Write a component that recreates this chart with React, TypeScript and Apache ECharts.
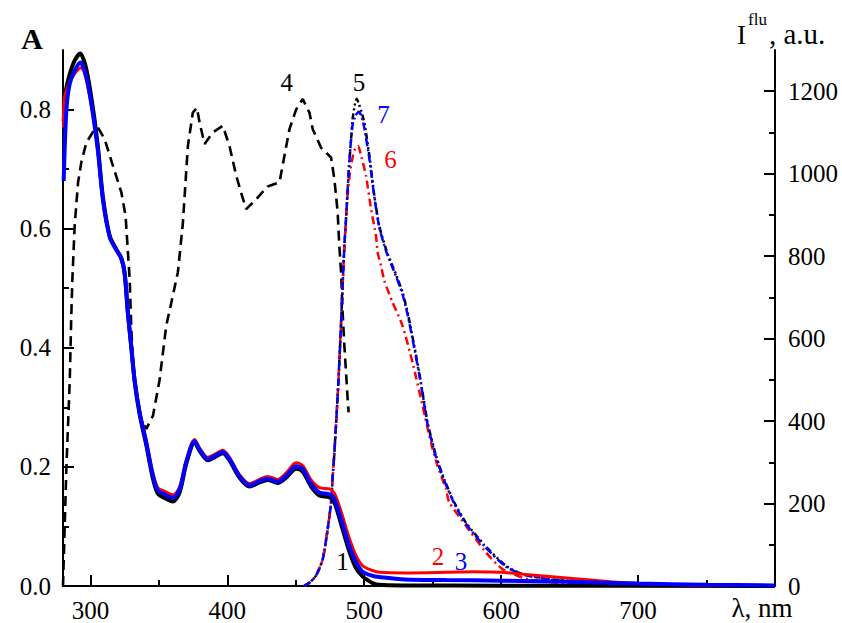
import React, { useEffect, useRef } from "react";
import * as echarts from "echarts";

// Absorbance spectra (left axis, A)
const abs1: number[][] = [[280.5,0.78],[282,0.83],[285,0.86],[288.5,0.882],[292.5,0.894],[297,0.868],[302,0.8],[305.5,0.737],[309.2,0.652],[314.1,0.588],[319,0.565],[322.6,0.55],[325,0.525],[327.4,0.458],[329.9,0.4],[332.3,0.344],[336,0.288],[340.8,0.237],[345.7,0.18],[349.3,0.155],[354.2,0.148],[360.2,0.142],[365.1,0.157],[370,0.205],[376.1,0.241],[379.7,0.227],[385.8,0.211],[390.7,0.216],[396.7,0.223],[401.6,0.211],[408.9,0.182],[416.2,0.167],[423.5,0.174],[429.5,0.178],[436.8,0.173],[443,0.182],[450.3,0.197],[455.1,0.192],[461.2,0.167],[467.3,0.152],[474.6,0.149],[478.2,0.14],[483.1,0.104],[489.1,0.058],[494,0.03],[498.8,0.016],[503,0.009],[506.1,0.005],[511,0.002],[530,0.001],[600,0.0005],[800,0]];
const abs2: number[][] = [[280.3,0.77],[281,0.82],[283,0.835],[286,0.852],[289,0.862],[293,0.87],[297,0.85],[302,0.789],[305.5,0.729],[309.2,0.647],[314.1,0.587],[319,0.566],[322.6,0.552],[325,0.528],[327.4,0.461],[329.9,0.404],[332.3,0.348],[336,0.293],[340.8,0.244],[345.7,0.189],[349.3,0.165],[354.2,0.159],[360.2,0.153],[365.1,0.166],[370,0.211],[376.1,0.246],[379.7,0.232],[385.8,0.216],[390.7,0.221],[396.7,0.228],[401.6,0.216],[408.9,0.187],[416.2,0.172],[423.5,0.179],[429.5,0.184],[436.8,0.179],[443,0.19],[450.3,0.207],[455.1,0.202],[461.2,0.178],[467.3,0.165],[474.6,0.163],[478.2,0.156],[483.1,0.125],[489.1,0.08],[494,0.051],[498.8,0.034],[506.1,0.026],[511,0.023],[530,0.022],[560,0.023],[580,0.024],[600,0.023],[620,0.019],[650,0.013],[680,0.007],[700,0.004],[750,0.001],[800,0.001]];
const abs3: number[][] = [[280.5,0.68],[282.5,0.8],[284.9,0.843],[288.5,0.865],[292.7,0.879],[297.1,0.854],[301.9,0.792],[305.5,0.731],[309.2,0.648],[314.1,0.586],[319,0.564],[322.6,0.55],[325,0.526],[327.4,0.459],[329.9,0.402],[332.3,0.346],[336,0.291],[340.8,0.241],[345.7,0.185],[349.3,0.16],[354.2,0.154],[360.2,0.148],[365.1,0.162],[370,0.208],[376.1,0.243],[379.7,0.229],[385.8,0.213],[390.7,0.218],[396.7,0.225],[401.6,0.213],[408.9,0.184],[416.2,0.169],[423.5,0.176],[429.5,0.18],[436.8,0.175],[443,0.185],[450.3,0.201],[455.1,0.196],[461.2,0.171],[467.3,0.157],[474.6,0.154],[478.2,0.146],[483.1,0.112],[489.1,0.067],[494,0.04],[498.8,0.024],[506.1,0.017],[511,0.015],[530,0.011],[560,0.01],[600,0.009],[650,0.007],[700,0.004],[750,0.002],[800,0.001]];

// Excitation spectrum (right axis, I flu)
const exc4: number[][] = [[280,0],[282.5,290],[284.9,495],[286.1,660],[286.8,740],[288.5,873],[291,979],[293.4,1028],[297.1,1076],[301.9,1101],[305.5,1112],[310.4,1084],[316.5,1019],[322.6,955],[325.7,898],[327.4,810],[328.7,744],[329.9,623],[331.1,543],[333.6,461],[337.2,405],[340.8,381],[345.7,413],[350.5,499],[355.4,631],[360.2,704],[363.9,761],[367.5,878],[369.3,970],[371.2,1067],[374.8,1148],[377.8,1160],[379.7,1125],[383.4,1072],[389.4,1100],[396.7,1116],[401.6,1067],[406.5,995],[410.1,954],[413.8,914],[421.1,938],[429.5,969],[438.1,979],[441.7,1043],[445.4,1108],[450.3,1156],[455.1,1181],[460,1148],[462.4,1108],[468.5,1063],[475.8,1039],[478.2,987],[480.6,906],[481.8,825],[483.1,760],[484.2,664],[485.5,583],[486.7,518],[487.9,453],[488.6,421]];

// Fluorescence spectra (right axis, I flu)
const flu5: number[][] = [[456,0],[460,8],[464.8,25],[469.7,65],[473.3,138],[475.8,203],[477,267],[478.2,324],[480.6,461],[481.8,542],[483.1,639],[484.2,728],[485.5,825],[486.7,890],[487.9,962],[489.1,1027],[490.4,1084],[491.5,1132],[493,1165],[494.5,1182],[496,1170],[498,1150],[500.1,1124],[503.8,1043],[507.4,946],[511,873],[515.9,817],[520.7,776],[523.6,752],[528,712],[531.7,663],[536.5,583],[541.4,494],[546.2,397],[552.4,316],[558.4,259],[565.7,203],[574.2,154],[587.6,100],[603.4,49],[615.5,29],[635,17],[671.5,6],[700,3],[750,1],[800,0]];
const flu6: number[][] = [[456,0],[460,8],[464.8,25],[469.7,65],[473.3,138],[475.8,203],[477,267],[478.2,324],[480.6,461],[481.8,542],[483.1,639],[484.2,728],[485.5,825],[486.7,890],[487.9,950],[489.5,1000],[491.5,1040],[493.5,1062],[495.5,1067],[498,1040],[501.3,995],[505,914],[508.6,849],[509.8,809],[512.3,776],[514.7,740],[520.7,688],[528,631],[535.3,542],[542.6,437],[548.7,348],[553.5,292],[559.7,235],[562.1,203],[574.3,146],[588.8,82],[600.9,41],[620,16],[650,6],[700,2],[800,0]];
const flu7: number[][] = [[456,0],[460,8],[464.8,25],[469.7,65],[473.3,138],[475.8,203],[477,267],[478.2,324],[480.6,461],[481.8,542],[483.1,639],[484.2,728],[485.5,825],[486.7,890],[487.9,962],[489.1,1027],[490.4,1084],[491.5,1118],[493.5,1140],[496,1150],[498,1140],[500.1,1110],[503.8,1035],[507.4,943],[511,870],[515.9,813],[520.7,772],[523.6,748],[528,707],[531.7,658],[536.5,578],[541.4,490],[546.2,393],[552.4,313],[558.4,256],[565.7,200],[574.2,151],[587.6,97],[603.4,47],[615.5,28],[635,16],[671.5,5],[700,3],[750,1],[800,0]];

// Axis ticks
const xMajor = [300, 400, 500, 600, 700];
const xMinor = [350, 450, 550, 650, 750];
const yLeftMajor = [0, 0.2, 0.4, 0.6, 0.8];
const yLeftMinor = [0.1, 0.3, 0.5, 0.7];
const yRightMajor = [0, 200, 400, 600, 800, 1000, 1200];
const yRightMinor = [100, 300, 500, 700, 900, 1100];

const FONT = "Times New Roman";

export default function App() {
  const ref = useRef<HTMLDivElement>(null);
  useEffect(() => {
    if (!ref.current) return;
    const chart = echarts.init(ref.current, undefined, { renderer: "svg" });
    const axisLine = { show: true, lineStyle: { color: "#000", width: 2 } };
    const tick = (len: number, vals: number[]) => ({ show: true, inside: true, length: len, lineStyle: { color: "#000", width: 2 }, customValues: vals });
    const xAxisBase = { type: "value", min: 280, max: 800, position: "bottom", splitLine: { show: false } };
    const txt = (text: string, x: number, y: number, size: number, color = "#000", align = "center", bold = false) => {
      const style: any = { text, fill: color, fontSize: size, fontFamily: FONT, textAlign: align, textVerticalAlign: "middle" };
      if (bold) style.fontWeight = "bold";
      return { type: "text", x, y, z: 100, style };
    };
    chart.setOption({
      animation: false,
      grid: { left: 63, right: 67, top: 50, bottom: 36 },
      xAxis: [
        {
          ...xAxisBase,
          axisLine,
          axisTick: tick(11, xMajor),
          axisLabel: { customValues: xMajor, fontFamily: FONT, fontSize: 25, color: "#000", margin: 12 },
        },
        {
          ...xAxisBase,
          axisLine: { show: false },
          axisTick: tick(6, xMinor),
          axisLabel: { show: false },
        },
      ],
      yAxis: [
        {
          type: "value", min: 0, max: 0.9, position: "left", splitLine: { show: false },
          axisLine,
          axisTick: tick(11, yLeftMajor),
          axisLabel: { customValues: yLeftMajor, fontFamily: FONT, fontSize: 25, color: "#000", margin: 12, formatter: (v: number) => v.toFixed(1) },
        },
        {
          type: "value", min: 0, max: 0.9, position: "left", splitLine: { show: false },
          axisLine: { show: false },
          axisTick: tick(6, yLeftMinor),
          axisLabel: { show: false },
        },
        {
          type: "value", min: 0, max: 1300, position: "right", splitLine: { show: false },
          axisLine,
          axisTick: tick(11, yRightMajor),
          axisLabel: { customValues: yRightMajor, fontFamily: FONT, fontSize: 25, color: "#000", margin: 13, formatter: (v: number) => String(v) },
        },
        {
          type: "value", min: 0, max: 1300, position: "right", splitLine: { show: false },
          axisLine: { show: false },
          axisTick: tick(6, yRightMinor),
          axisLabel: { show: false },
        },
      ],
      series: [
        { name: "4", type: "line", yAxisIndex: 2, data: exc4, symbol: "none", lineStyle: { color: "#000", width: 2.6, type: [10, 6] } },
        { name: "5", type: "line", yAxisIndex: 2, data: flu5, symbol: "none", smooth: 0.2, lineStyle: { color: "#000", width: 2.5, type: [6, 3, 2, 3, 2, 3] } },
        { name: "6", type: "line", yAxisIndex: 2, data: flu6, symbol: "none", smooth: 0.2, lineStyle: { color: "#ff0000", width: 2.5, type: [8, 4, 2, 4] } },
        { name: "7", type: "line", yAxisIndex: 2, data: flu7, symbol: "none", smooth: 0.2, lineStyle: { color: "#0000ff", width: 2.5, type: [8, 3, 2, 3] } },
        { name: "1", type: "line", yAxisIndex: 0, data: abs1, symbol: "none", smooth: 0.3, lineStyle: { color: "#000", width: 4 } },
        { name: "2", type: "line", yAxisIndex: 0, data: abs2, symbol: "none", smooth: 0.3, lineStyle: { color: "#ff0000", width: 3 } },
        { name: "3", type: "line", yAxisIndex: 0, data: abs3, symbol: "none", smooth: 0.3, lineStyle: { color: "#0000ff", width: 4 } },
      ],
      graphic: [
        txt("A", 32, 38, 30, "#000", "center", true),
        txt("I", 737, 35, 27, "#000", "left"),
        txt("flu", 748, 19.5, 17, "#000", "left"),
        txt(", a.u.", 769, 34, 29, "#000", "left"),
        txt("λ, nm", 762, 608, 27, "#000", "center"),
        txt("1", 342.5, 561.5, 25),
        txt("2", 438, 556.5, 25, "#ff0000"),
        txt("3", 461, 561.5, 25, "#0000ff"),
        txt("4", 286.7, 82.5, 25),
        txt("5", 359, 82.5, 25),
        txt("7", 383.5, 114, 25, "#0000ff"),
        txt("6", 390.5, 159, 25, "#ff0000"),
      ],
    });
    return () => chart.dispose();
  }, []);
  return <div ref={ref} style={{ position: "fixed", left: 0, top: 0, width: 842, height: 623, background: "#fff" }} />;
}
